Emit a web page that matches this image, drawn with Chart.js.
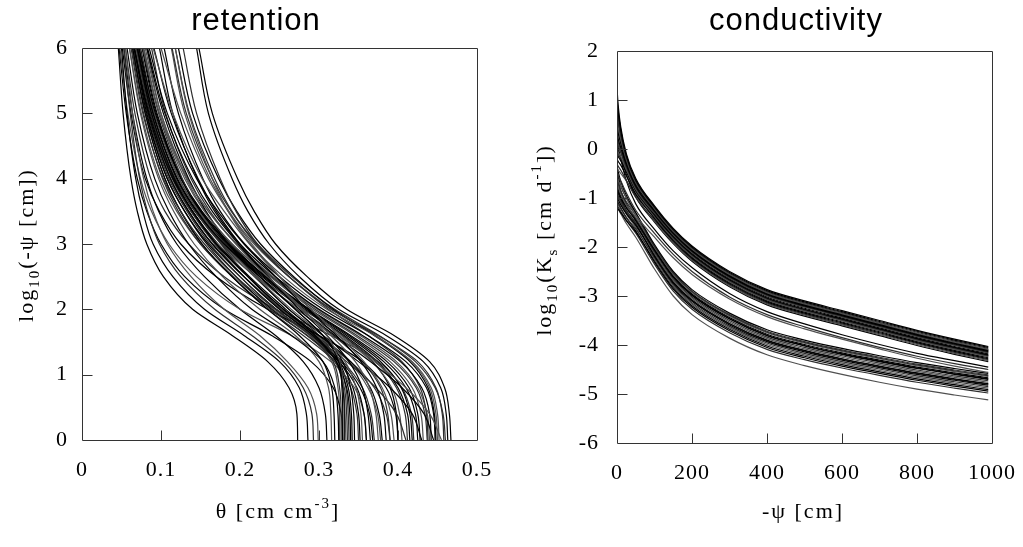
<!DOCTYPE html>
<html>
<head>
<meta charset="utf-8">
<script src="https://cdn.jsdelivr.net/npm/chart.js@4/dist/chart.umd.min.js"></script>
<style>
html,body{margin:0;padding:0;background:#fff;}
#wrap{position:relative;width:1023px;height:547px;overflow:hidden;background:#fff;}
.pane{position:absolute;top:0;height:547px;}
#p1{left:0;width:511px;}
#p2{left:511px;width:512px;}
canvas{display:block;}
</style>
</head>
<body>
<div id="wrap">
  <div class="pane" id="p1"><canvas id="c1" width="511" height="547"></canvas></div>
  <div class="pane" id="p2"><canvas id="c2" width="512" height="547"></canvas></div>
</div>
<script>
// ---------- tick values ----------
const thetaTicks = [0, 0.1, 0.2, 0.3, 0.4, 0.5];
const logPsiTicks = [0, 1, 2, 3, 4, 5, 6];
const suctionTicks = [0, 200, 400, 600, 800, 1000];
const logKTicks = [-6, -5, -4, -3, -2, -1, 0, 1, 2];

// ---------- retention: theta read at these log10(-psi) levels ----------
const retentionLevels = [0, 0.4, 0.8, 1.2, 1.6, 2, 2.5, 3, 3.5, 4, 5, 6];
const retentionCurves = [
  [0.273,0.272,0.262,0.235,0.190,0.140,0.103,0.082,0.070,0.062,0.052,0.046],
  [0.286,0.284,0.275,0.250,0.205,0.155,0.115,0.090,0.077,0.068,0.057,0.050],
  [0.293,0.291,0.280,0.255,0.215,0.168,0.125,0.098,0.083,0.073,0.061,0.053],
  [0.299,0.297,0.286,0.260,0.225,0.180,0.138,0.108,0.090,0.078,0.064,0.055],
  [0.330,0.330,0.329,0.325,0.305,0.270,0.225,0.180,0.145,0.120,0.090,0.070],
  [0.332,0.332,0.330,0.322,0.295,0.255,0.210,0.170,0.140,0.115,0.085,0.066],
  [0.328,0.328,0.326,0.318,0.290,0.245,0.195,0.155,0.125,0.103,0.077,0.062],
  [0.334,0.333,0.331,0.326,0.310,0.280,0.235,0.190,0.155,0.130,0.098,0.078],
  [0.320,0.319,0.316,0.305,0.275,0.235,0.190,0.152,0.125,0.105,0.080,0.064],
  [0.325,0.324,0.320,0.305,0.265,0.215,0.170,0.135,0.110,0.092,0.070,0.057],
  [0.336,0.335,0.332,0.320,0.285,0.238,0.190,0.150,0.122,0.102,0.078,0.063],
  [0.316,0.315,0.312,0.300,0.270,0.225,0.178,0.142,0.116,0.097,0.074,0.060],
  [0.340,0.339,0.335,0.322,0.292,0.250,0.205,0.165,0.135,0.112,0.084,0.066],
  [0.345,0.344,0.340,0.330,0.305,0.270,0.225,0.185,0.150,0.125,0.093,0.072],
  [0.350,0.348,0.340,0.320,0.280,0.235,0.190,0.152,0.125,0.105,0.080,0.065],
  [0.355,0.353,0.347,0.333,0.305,0.265,0.220,0.180,0.148,0.123,0.092,0.073],
  [0.360,0.357,0.348,0.325,0.285,0.240,0.195,0.158,0.130,0.108,0.082,0.066],
  [0.365,0.362,0.355,0.338,0.310,0.275,0.235,0.198,0.165,0.140,0.105,0.083],
  [0.370,0.366,0.355,0.330,0.290,0.245,0.200,0.162,0.133,0.110,0.083,0.066],
  [0.375,0.372,0.364,0.346,0.315,0.278,0.235,0.195,0.160,0.133,0.098,0.077],
  [0.380,0.376,0.365,0.340,0.300,0.255,0.210,0.170,0.140,0.117,0.088,0.070],
  [0.385,0.382,0.373,0.353,0.322,0.285,0.245,0.205,0.172,0.145,0.108,0.085],
  [0.390,0.385,0.370,0.340,0.295,0.250,0.205,0.168,0.138,0.115,0.087,0.069],
  [0.395,0.391,0.380,0.357,0.325,0.290,0.250,0.212,0.180,0.152,0.115,0.090],
  [0.445,0.433,0.405,0.365,0.320,0.278,0.236,0.200,0.170,0.147,0.113,0.091],
  [0.430,0.418,0.390,0.350,0.305,0.262,0.220,0.185,0.157,0.135,0.103,0.082],
  [0.410,0.398,0.372,0.335,0.293,0.252,0.210,0.176,0.148,0.127,0.097,0.078],
  [0.455,0.440,0.410,0.370,0.328,0.290,0.250,0.215,0.185,0.160,0.125,0.100],
  [0.467,0.465,0.459,0.440,0.395,0.335,0.285,0.245,0.218,0.197,0.165,0.148],
  [0.463,0.461,0.454,0.432,0.385,0.325,0.275,0.237,0.210,0.190,0.160,0.145],
  [0.458,0.456,0.448,0.425,0.375,0.315,0.262,0.222,0.195,0.175,0.145,0.128],
  [0.452,0.450,0.442,0.418,0.370,0.310,0.255,0.213,0.185,0.165,0.135,0.118],
  [0.447,0.445,0.436,0.410,0.362,0.305,0.250,0.206,0.175,0.153,0.122,0.104],
  [0.442,0.440,0.430,0.403,0.355,0.300,0.245,0.200,0.168,0.146,0.115,0.098],
  [0.437,0.434,0.423,0.395,0.348,0.295,0.240,0.195,0.162,0.138,0.106,0.088],
  [0.432,0.429,0.418,0.390,0.345,0.292,0.238,0.190,0.156,0.132,0.100,0.082],
  [0.425,0.422,0.410,0.382,0.338,0.287,0.232,0.185,0.150,0.126,0.095,0.077],
  [0.418,0.415,0.404,0.378,0.335,0.285,0.230,0.183,0.148,0.123,0.092,0.074],
  [0.412,0.409,0.398,0.372,0.330,0.280,0.225,0.178,0.143,0.118,0.088,0.071],
  [0.405,0.402,0.392,0.367,0.325,0.275,0.220,0.172,0.138,0.114,0.085,0.068],
  [0.400,0.398,0.390,0.368,0.330,0.285,0.232,0.188,0.152,0.126,0.092,0.073],
  [0.448,0.446,0.438,0.415,0.370,0.318,0.268,0.226,0.196,0.173,0.140,0.122],
  [0.438,0.436,0.428,0.405,0.362,0.312,0.262,0.220,0.190,0.168,0.136,0.118],
  [0.360,0.357,0.345,0.315,0.265,0.200,0.145,0.110,0.088,0.074,0.058,0.048],
  [0.400,0.397,0.385,0.355,0.300,0.235,0.170,0.125,0.098,0.080,0.062,0.051],
  [0.330,0.328,0.318,0.290,0.240,0.180,0.130,0.100,0.082,0.070,0.056,0.047],
  [0.420,0.417,0.405,0.375,0.315,0.245,0.180,0.135,0.105,0.087,0.067,0.055],
  [0.440,0.437,0.425,0.398,0.352,0.298,0.242,0.196,0.160,0.134,0.100,0.080],
  [0.428,0.425,0.414,0.386,0.340,0.288,0.233,0.186,0.151,0.126,0.094,0.076],
  [0.415,0.412,0.400,0.374,0.332,0.282,0.228,0.181,0.146,0.121,0.090,0.072],
  [0.460,0.457,0.447,0.422,0.376,0.320,0.266,0.222,0.189,0.165,0.132,0.114],
  [0.378,0.374,0.362,0.338,0.298,0.252,0.205,0.165,0.135,0.112,0.084,0.067],
  [0.368,0.364,0.352,0.328,0.290,0.246,0.200,0.160,0.130,0.108,0.081,0.064],
  [0.342,0.341,0.337,0.325,0.296,0.258,0.212,0.172,0.140,0.116,0.086,0.068],
  [0.338,0.337,0.334,0.324,0.300,0.262,0.218,0.176,0.143,0.118,0.088,0.069],
  [0.326,0.326,0.324,0.316,0.288,0.242,0.192,0.150,0.120,0.099,0.075,0.060],
  [0.352,0.350,0.343,0.326,0.294,0.252,0.205,0.165,0.135,0.112,0.084,0.067],
  [0.310,0.308,0.300,0.280,0.245,0.200,0.155,0.120,0.097,0.082,0.064,0.053],
  [0.390,0.387,0.378,0.355,0.318,0.272,0.222,0.178,0.145,0.120,0.090,0.072],
  [0.450,0.448,0.440,0.417,0.372,0.316,0.262,0.218,0.186,0.162,0.130,0.113]
];

// ---------- conductivity: log10 K read at these -psi values ----------
const suctionPoints = [0, 3, 10, 25, 50, 100, 150, 200, 300, 400, 500, 600, 700, 800, 900, 990];
const conductivityCurves = [
  [1.25,0.90,0.45,-0.10,-0.60,-1.16,-1.62,-1.98,-2.50,-2.87,-3.10,-3.30,-3.50,-3.70,-3.88,-4.03],
  [1.00,0.75,0.38,-0.14,-0.63,-1.18,-1.64,-2.00,-2.52,-2.89,-3.12,-3.32,-3.52,-3.72,-3.90,-4.05],
  [0.80,0.60,0.30,-0.18,-0.66,-1.20,-1.66,-2.02,-2.54,-2.91,-3.14,-3.34,-3.54,-3.74,-3.92,-4.07],
  [0.60,0.45,0.20,-0.22,-0.69,-1.22,-1.68,-2.04,-2.56,-2.93,-3.16,-3.36,-3.56,-3.76,-3.94,-4.09],
  [0.45,0.33,0.12,-0.27,-0.72,-1.25,-1.70,-2.06,-2.58,-2.95,-3.18,-3.38,-3.58,-3.78,-3.96,-4.11],
  [0.30,0.20,0.03,-0.32,-0.76,-1.27,-1.72,-2.08,-2.60,-2.97,-3.20,-3.40,-3.60,-3.80,-3.98,-4.13],
  [0.15,0.07,-0.07,-0.37,-0.79,-1.30,-1.74,-2.10,-2.62,-2.99,-3.22,-3.42,-3.62,-3.82,-4.00,-4.15],
  [0.00,-0.06,-0.16,-0.42,-0.82,-1.31,-1.75,-2.11,-2.63,-3.00,-3.23,-3.43,-3.63,-3.83,-4.01,-4.16],
  [-0.10,-0.15,-0.24,-0.47,-0.85,-1.33,-1.77,-2.13,-2.65,-3.02,-3.25,-3.45,-3.65,-3.85,-4.03,-4.18],
  [0.90,0.62,0.27,-0.24,-0.75,-1.34,-1.79,-2.15,-2.67,-3.04,-3.27,-3.47,-3.67,-3.87,-4.05,-4.20],
  [0.50,0.36,0.12,-0.30,-0.80,-1.36,-1.81,-2.17,-2.69,-3.06,-3.29,-3.49,-3.69,-3.89,-4.07,-4.22],
  [0.20,0.10,-0.06,-0.40,-0.86,-1.38,-1.83,-2.19,-2.71,-3.08,-3.31,-3.51,-3.71,-3.91,-4.09,-4.24],
  [-0.20,-0.25,-0.33,-0.55,-0.92,-1.40,-1.85,-2.21,-2.73,-3.10,-3.33,-3.53,-3.73,-3.93,-4.11,-4.26],
  [0.70,0.50,0.18,-0.33,-0.86,-1.42,-1.87,-2.23,-2.75,-3.12,-3.35,-3.55,-3.75,-3.95,-4.13,-4.28],
  [-0.30,-0.35,-0.43,-0.64,-0.99,-1.45,-1.89,-2.25,-2.77,-3.14,-3.37,-3.57,-3.77,-3.97,-4.15,-4.30],
  [0.35,0.22,0.00,-0.43,-0.93,-1.47,-1.91,-2.27,-2.79,-3.16,-3.39,-3.59,-3.79,-3.99,-4.17,-4.32],
  [0.05,-0.03,-0.17,-0.52,-0.98,-1.49,-1.93,-2.29,-2.81,-3.18,-3.41,-3.61,-3.81,-4.01,-4.19,-4.34],
  [1.10,0.80,0.38,-0.17,-0.68,-1.23,-1.69,-2.05,-2.57,-2.94,-3.17,-3.37,-3.57,-3.77,-3.95,-4.10],
  [-0.05,-0.10,-0.20,-0.43,-0.80,-1.28,-1.73,-2.09,-2.61,-2.98,-3.21,-3.41,-3.61,-3.81,-3.99,-4.14],
  [-0.40,-0.43,-0.50,-0.65,-0.95,-1.37,-1.82,-2.18,-2.70,-3.07,-3.30,-3.50,-3.70,-3.90,-4.08,-4.23],
  [0.65,0.48,0.22,-0.20,-0.70,-1.26,-1.71,-2.07,-2.59,-2.96,-3.19,-3.39,-3.59,-3.79,-3.97,-4.12],
  [0.25,0.14,-0.02,-0.36,-0.83,-1.35,-1.80,-2.16,-2.68,-3.05,-3.28,-3.48,-3.68,-3.88,-4.06,-4.21],
  [-0.50,-0.55,-0.65,-0.90,-1.25,-1.72,-2.15,-2.50,-3.02,-3.38,-3.63,-3.85,-4.05,-4.23,-4.38,-4.50],
  [-0.60,-0.65,-0.75,-1.00,-1.35,-1.80,-2.22,-2.56,-3.06,-3.42,-3.67,-3.88,-4.08,-4.27,-4.43,-4.56],
  [0.20,0.05,-0.20,-0.65,-1.12,-1.64,-2.08,-2.42,-2.95,-3.32,-3.57,-3.79,-3.99,-4.17,-4.32,-4.45],
  [-0.45,-0.55,-0.75,-1.00,-1.30,-1.95,-2.50,-2.87,-3.35,-3.69,-3.90,-4.07,-4.22,-4.36,-4.48,-4.58],
  [-0.60,-0.68,-0.85,-1.08,-1.35,-1.98,-2.53,-2.90,-3.38,-3.72,-3.93,-4.10,-4.25,-4.39,-4.51,-4.61],
  [-0.70,-0.77,-0.92,-1.14,-1.40,-2.01,-2.56,-2.93,-3.41,-3.75,-3.96,-4.13,-4.28,-4.42,-4.54,-4.64],
  [-0.55,-0.65,-0.85,-1.12,-1.42,-2.04,-2.59,-2.96,-3.44,-3.78,-3.99,-4.16,-4.31,-4.45,-4.57,-4.67],
  [-0.80,-0.86,-1.00,-1.20,-1.46,-2.07,-2.62,-2.99,-3.47,-3.81,-4.02,-4.19,-4.34,-4.48,-4.60,-4.70],
  [-0.90,-0.95,-1.07,-1.26,-1.50,-2.10,-2.65,-3.02,-3.50,-3.84,-4.05,-4.22,-4.37,-4.51,-4.63,-4.73],
  [-0.65,-0.73,-0.90,-1.15,-1.45,-2.13,-2.68,-3.05,-3.53,-3.87,-4.08,-4.25,-4.40,-4.54,-4.66,-4.76],
  [-1.00,-1.04,-1.14,-1.32,-1.56,-2.16,-2.71,-3.08,-3.56,-3.90,-4.11,-4.28,-4.43,-4.57,-4.69,-4.79],
  [-0.85,-0.90,-1.03,-1.25,-1.52,-2.19,-2.74,-3.11,-3.59,-3.93,-4.14,-4.31,-4.46,-4.60,-4.72,-4.82],
  [-1.10,-1.13,-1.22,-1.40,-1.63,-2.22,-2.77,-3.14,-3.62,-3.96,-4.17,-4.34,-4.49,-4.63,-4.75,-4.85],
  [-0.95,-1.00,-1.12,-1.33,-1.60,-2.25,-2.80,-3.17,-3.65,-3.99,-4.20,-4.37,-4.52,-4.66,-4.78,-4.88],
  [-1.20,-1.22,-1.30,-1.46,-1.69,-2.28,-2.83,-3.20,-3.68,-4.02,-4.23,-4.40,-4.55,-4.69,-4.81,-4.91],
  [-1.05,-1.09,-1.20,-1.40,-1.67,-2.31,-2.86,-3.23,-3.71,-4.05,-4.26,-4.43,-4.58,-4.72,-4.84,-4.94],
  [-1.15,-1.18,-1.27,-1.46,-1.72,-2.35,-2.90,-3.27,-3.75,-4.09,-4.30,-4.47,-4.62,-4.76,-4.88,-4.98],
  [-1.20,-1.23,-1.32,-1.52,-1.80,-2.45,-3.00,-3.38,-3.86,-4.20,-4.42,-4.60,-4.76,-4.90,-5.02,-5.12],
  [-0.35,-0.45,-0.66,-0.95,-1.30,-2.00,-2.55,-2.92,-3.40,-3.74,-3.95,-4.12,-4.27,-4.41,-4.53,-4.63],
  [-0.75,-0.82,-0.97,-1.19,-1.45,-2.06,-2.61,-2.98,-3.46,-3.80,-4.01,-4.18,-4.33,-4.47,-4.59,-4.69],
  [-0.92,-0.97,-1.09,-1.29,-1.55,-2.17,-2.72,-3.09,-3.57,-3.91,-4.12,-4.29,-4.44,-4.58,-4.70,-4.80]
];

// ---------- helpers ----------
const SERIF = '"Liberation Serif", "Times New Roman", serif';
const SANS = '"Liberation Sans", Arial, sans-serif';
const lineColors = ['#000000', '#000000', '#2e2e2e', '#505050'];

function drawRich(ctx, segs, cx, cy, rotate, st) {
  ctx.save();
  ctx.translate(cx, cy);
  if (rotate) ctx.rotate(-Math.PI / 2);
  ctx.textAlign = 'left';
  ctx.textBaseline = 'alphabetic';
  ctx.fillStyle = '#000';
  if ('letterSpacing' in ctx) ctx.letterSpacing = st.ls || '0px';
  let total = 0;
  const widths = segs.map(s => {
    ctx.font = (s.k ? st.small : st.size) + 'px ' + st.family;
    const w = ctx.measureText(s.t).width;
    total += w;
    return w;
  });
  let x = -total / 2;
  segs.forEach((s, i) => {
    ctx.font = (s.k ? st.small : st.size) + 'px ' + st.family;
    const dy = s.k === 'sub' ? st.subDy : (s.k === 'sup' ? st.supDy : 0);
    ctx.fillText(s.t, x, dy);
    x += widths[i];
  });
  ctx.restore();
}

const framePlugin = {
  id: 'frame',
  beforeDraw(chart) {
    if ('letterSpacing' in chart.ctx) chart.ctx.letterSpacing = '1px';
  },
  afterDatasetsDraw(chart, args, opts) {
    const { ctx, chartArea: a, scales } = chart;
    ctx.save();
    ctx.strokeStyle = '#333';
    ctx.lineWidth = 1;
    ctx.beginPath();
    ctx.rect(Math.round(a.left) + 0.5, Math.round(a.top) + 0.5,
             Math.round(a.right - a.left), Math.round(a.bottom - a.top));
    const len = opts.len;
    opts.xTicks.forEach(v => {
      const x = Math.round(scales.x.getPixelForValue(v)) + 0.5;
      if (x > a.left + 2 && x < a.right - 2) {
        ctx.moveTo(x, Math.round(a.bottom) + 0.5);
        ctx.lineTo(x, Math.round(a.bottom) + 0.5 - len);
      }
    });
    opts.yTicks.forEach(v => {
      const y = Math.round(scales.y.getPixelForValue(v)) + 0.5;
      if (y > a.top + 2 && y < a.bottom - 2) {
        ctx.moveTo(Math.round(a.left) + 0.5, y);
        ctx.lineTo(Math.round(a.left) + 0.5 + len, y);
      }
    });
    ctx.stroke();
    ctx.restore();
  },
  afterDraw(chart, args, opts) {
    const ctx = chart.ctx;
    ctx.save();
    if ('letterSpacing' in ctx) ctx.letterSpacing = '1px';
    ctx.font = '31px ' + SANS;
    ctx.fillStyle = '#000';
    ctx.textAlign = 'center';
    ctx.textBaseline = 'alphabetic';
    ctx.fillText(opts.title, opts.titleX, opts.titleY);
    ctx.restore();
    const st = { family: SERIF, size: opts.axisSize, small: 15, subDy: 6, supDy: -10, ls: '2px' };
    drawRich(ctx, opts.xTitle, opts.xTitleX, opts.xTitleY, false, st);
    drawRich(ctx, opts.yTitle, opts.yTitleX, opts.yTitleY, true, st);
  }
};

function axisCommon(min, max, ticks, fit, isX, pad) {
  return {
    type: 'linear', min: min, max: max,
    grid: { display: false },
    border: { display: false },
    ticks: {
      color: '#000', padding: pad, autoSkip: false, maxRotation: 0,
      font: { family: SERIF, size: 22 },
      callback: v => String(v)
    },
    afterBuildTicks: s => { s.ticks = ticks.map(v => ({ value: v })); },
    afterFit: s => { if (isX) s.height = fit; else s.width = fit; }
  };
}

// ---------- retention chart ----------
new Chart(document.getElementById('c1'), {
  type: 'line',
  data: {
    datasets: retentionCurves.map((c, i) => ({
      data: c.map((t, j) => ({ x: t, y: retentionLevels[j] })),
      borderColor: lineColors[i % lineColors.length],
      borderWidth: 1.2,
      pointRadius: 0,
      fill: false,
      cubicInterpolationMode: 'monotone'
    }))
  },
  options: {
    indexAxis: 'y',
    responsive: false,
    animation: false,
    events: [],
    layout: { padding: { top: 48, right: 34, left: 0, bottom: 0 } },
    plugins: {
      legend: { display: false }, tooltip: { enabled: false }, title: { display: false },
      frame: {
        len: 10, xTicks: thetaTicks, yTicks: logPsiTicks,
        title: 'retention', titleX: 256, titleY: 30,
        xTitle: [{ t: 'θ [cm cm' }, { t: '-3', k: 'sup' }, { t: ']' }],
        xTitleX: 278, xTitleY: 518, axisSize: 22,
        yTitle: [{ t: 'log' }, { t: '10', k: 'sub' }, { t: '(-ψ [cm])' }],
        yTitleX: 33, yTitleY: 245
      }
    },
    scales: {
      x: axisCommon(0, 0.5, thetaTicks, 107, true, 9),
      y: axisCommon(0, 6, logPsiTicks, 82, false, 6)
    }
  },
  plugins: [framePlugin]
});

// ---------- conductivity chart ----------
new Chart(document.getElementById('c2'), {
  type: 'line',
  data: {
    datasets: conductivityCurves.map((c, i) => ({
      data: c.map((k, j) => ({ x: suctionPoints[j], y: k })),
      borderColor: lineColors[i % lineColors.length],
      borderWidth: 1.2,
      pointRadius: 0,
      fill: false,
      cubicInterpolationMode: 'monotone'
    }))
  },
  options: {
    responsive: false,
    animation: false,
    events: [],
    layout: { padding: { top: 51, right: 29, left: 0, bottom: 0 } },
    plugins: {
      legend: { display: false }, tooltip: { enabled: false }, title: { display: false },
      frame: {
        len: 10, xTicks: suctionTicks, yTicks: logKTicks,
        title: 'conductivity', titleX: 285, titleY: 30,
        xTitle: [{ t: '-ψ [cm]' }],
        xTitleX: 292, xTitleY: 518, axisSize: 22,
        yTitle: [{ t: 'log' }, { t: '10', k: 'sub' }, { t: '(K' }, { t: 's', k: 'sub' }, { t: ' [cm d' }, { t: '-1', k: 'sup' }, { t: '])' }],
        yTitleX: 40, yTitleY: 240
      }
    },
    scales: {
      x: axisCommon(0, 1000, suctionTicks, 104, true, 9),
      y: axisCommon(-6, 2, logKTicks, 106, false, 10)
    }
  },
  plugins: [framePlugin]
});
</script>
</body>
</html>
